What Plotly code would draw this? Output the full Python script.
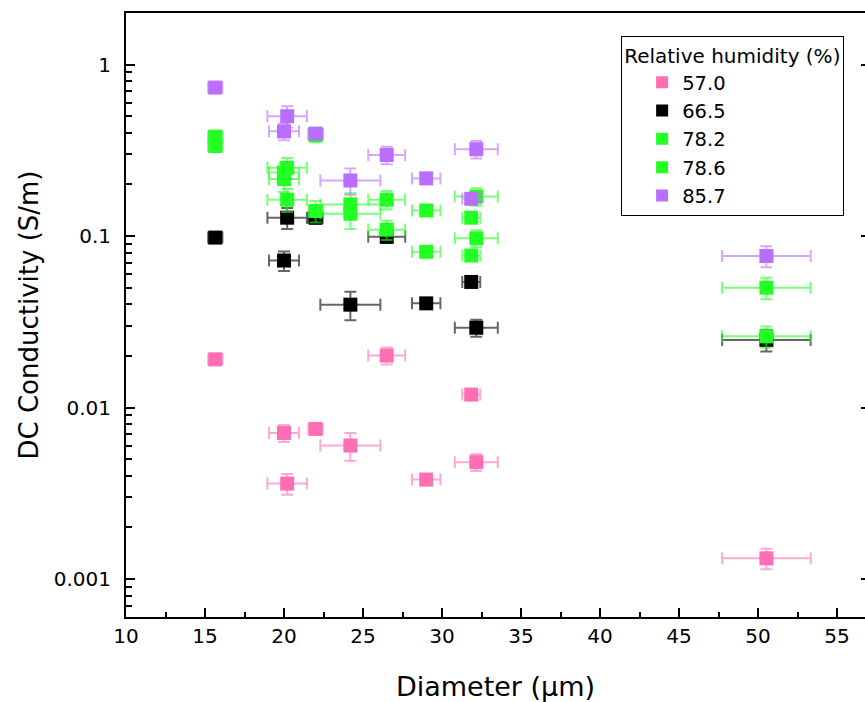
import plotly.graph_objects as go

# Diameters (µm) and their horizontal uncertainties
diameter = [15.65, 20.0, 20.2, 22.0, 24.2, 26.5, 29.0, 31.85, 32.17, 50.53]
diameter_err = [0.45, 0.95, 1.25, 0.45, 1.9, 1.17, 0.9, 0.57, 1.36, 2.8]

# DC conductivity (S/m) per relative humidity
rh_labels = ["57.0", "66.5", "78.2", "78.6", "85.7"]

sigma_570 = [0.0191, 0.0071, 0.0036, 0.0075, 0.0060, 0.0201, 0.0038, 0.0119, 0.0048, 0.00132]
err_570 = [0.0008, 0.0008, 0.0005, 0.0003, 0.0011, 0.0023, 0.0002, 0.0005, 0.00054, 0.00018]

sigma_665 = [0.098, 0.072, 0.128, 0.128, 0.0398, 0.099, 0.0405, 0.054, 0.0292, 0.0248]
err_665 = [0.004, 0.0094, 0.018, 0.01, 0.0075, 0.008, 0.003, 0.003, 0.0033, 0.0036]

sigma_782 = [0.38, 0.235, 0.25, 0.388, 0.153, 0.163, 0.141, 0.128, 0.170, 0.050]
err_782 = [0.03, 0.03, 0.035, 0.035, 0.025, 0.02, 0.01, 0.008, 0.02, 0.0072]

sigma_786 = [0.335, 0.215, 0.163, 0.14, 0.135, 0.109, 0.081, 0.077, 0.097, 0.026]
err_786 = [0.025, 0.034, 0.025, 0.02, 0.025, 0.014, 0.006, 0.005, 0.011, 0.0037]

sigma_857 = [0.735, 0.408, 0.50, 0.396, 0.211, 0.297, 0.217, 0.165, 0.321, 0.0765]
err_857 = [0.03, 0.046, 0.072, 0.02, 0.037, 0.035, 0.012, 0.01, 0.038, 0.0107]

y_tickvals = [0.001, 0.01, 0.1, 1]
y_ticktext = ["0.001", "0.01", "0.1", "1"]
y_minor_ticks = [0.0006, 0.0007, 0.0008, 0.0009,
                 0.002, 0.003, 0.004, 0.005, 0.006, 0.007, 0.008, 0.009,
                 0.02, 0.03, 0.04, 0.05, 0.06, 0.07, 0.08, 0.09,
                 0.2, 0.3, 0.4, 0.5, 0.6, 0.7, 0.8, 0.9, 2]

series = [
    (rh_labels[0], sigma_570, err_570, "#FF6EB4", "rgba(255,110,180,0.6)"),
    (rh_labels[1], sigma_665, err_665, "#000000", "rgba(0,0,0,0.6)"),
    (rh_labels[2], sigma_782, err_782, "#22FF22", "rgba(34,255,34,0.6)"),
    (rh_labels[3], sigma_786, err_786, "#22FF22", "rgba(34,255,34,0.6)"),
    (rh_labels[4], sigma_857, err_857, "#B96EFF", "rgba(185,110,255,0.6)"),
]

FONT = "DejaVu Sans"

fig = go.Figure()
for name, ys, ye, col, ecol in series:
    fig.add_trace(go.Scatter(
        x=diameter, y=ys, mode="markers", name=name,
        marker=dict(symbol="square", size=14, color=col, line=dict(width=0)),
        error_x=dict(type="data", array=diameter_err, color=ecol, thickness=2, width=6),
        error_y=dict(type="data", array=ye, color=ecol, thickness=2, width=6),
    ))

# empty traces holding the right-hand tick axis and the left minor-tick axis
fig.add_trace(go.Scatter(x=[], y=[], yaxis="y2", showlegend=False, hoverinfo="skip"))
fig.add_trace(go.Scatter(x=[], y=[], yaxis="y3", showlegend=False, hoverinfo="skip"))

yr = [-3.2218, 0.30103]

fig.update_layout(
    width=865, height=702,
    margin=dict(l=126, r=0, t=13, b=85, autoexpand=False),
    paper_bgcolor="white", plot_bgcolor="white",
    font=dict(family=FONT, color="black", size=20),
    showlegend=True,
    legend=dict(
        x=0.67, y=0.962, xanchor="left", yanchor="top",
        bgcolor="white", bordercolor="black", borderwidth=1,
        font=dict(family=FONT, size=19.5, color="black"),
        title=dict(text="Relative humidity (%)", font=dict(family=FONT, size=20, color="black")),
        itemsizing="constant", indentation=20,
    ),
    xaxis=dict(
        range=[10, 56.77], tick0=10, dtick=5,
        showgrid=False, zeroline=False,
        showline=True, linecolor="black", linewidth=2, mirror=True,
        ticks="inside", ticklen=9, tickwidth=1.5, tickcolor="black",
        minor=dict(ticks="inside", ticklen=5, tickwidth=1.5, tickcolor="black", dtick=2.5, showgrid=False),
        tickfont=dict(family=FONT, size=20),
        title=dict(text="Diameter (µm)", font=dict(family=FONT, size=27), standoff=30),
    ),
    yaxis=dict(
        type="log", range=yr,
        tickmode="array", tickvals=y_tickvals, ticktext=y_ticktext,
        showgrid=False, zeroline=False,
        showline=True, linecolor="black", linewidth=2, mirror=False,
        ticks="inside", ticklen=9, tickwidth=1.5, tickcolor="black",
        ticklabelstandoff=9,
        tickfont=dict(family=FONT, size=20),
        title=dict(text="DC Conductivity (S/m)", font=dict(family=FONT, size=26), standoff=8),
    ),
    yaxis2=dict(
        type="log", range=yr, overlaying="y", side="right", anchor="x",
        tickmode="array", tickvals=y_tickvals, showticklabels=False,
        showgrid=False, zeroline=False, showline=False,
        ticks="inside", ticklen=4, tickwidth=1.5, tickcolor="black",
    ),
    yaxis3=dict(
        type="log", range=yr, overlaying="y", side="left", anchor="x",
        tickmode="array", tickvals=y_minor_ticks, showticklabels=False,
        showgrid=False, zeroline=False, showline=False,
        ticks="inside", ticklen=6, tickwidth=1.5, tickcolor="black",
    ),
)

fig.write_html("out.html")
